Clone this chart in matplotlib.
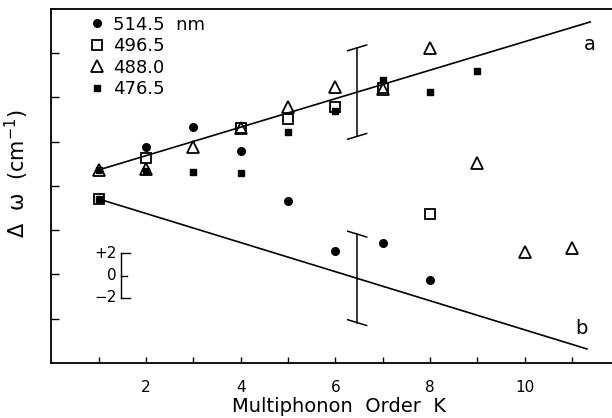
"""Multiphonon order dependence of the Raman shift for four laser lines."""

import numpy
from matplotlib import pyplot

# Data (y in cm^-1, arbitrary offset).
k_514 = [2, 3, 4, 5, 6, 7, 8]
d_514 = [19.5, 21.3, 19.2, 14.6, 10.1, 10.85, 7.5]

k_496 = [1, 2, 4, 5, 6, 7, 8]
d_496 = [14.83, 18.5, 21.25, 22.06, 23.1, 24.9, 13.47]

k_488 = [1, 2, 3, 4, 5, 6, 7, 8, 9, 10, 11]
d_488 = [17.45, 17.54, 19.5, 21.25, 23.15, 24.95, 24.77, 28.48, 18.08,
         10.04, 10.4]

k_476 = [1, 1, 2, 3, 4, 5, 6, 7, 8, 9]
d_476 = [17.45, 14.83, 17.4, 17.27, 17.18, 20.89, 22.8, 25.59, 24.5, 26.4]

labels = ['514.5  nm', '496.5', '488.0', '476.5']

# Fitted lines a and b (start / end points).
line_a_k = [1.0, 11.38]
line_a_d = [17.45, 30.83]
line_b_k = [1.0, 11.31]
line_b_d = [14.83, 1.27]

# Error bars drawn on the fitted lines.
err_k = 6.46
err_half = 4.0

# Scale bar (+2 / 0 / -2 cm^-1).
scale_k = 1.47
scale_zero = 7.9
scale_vals = [2, 0, -2]

pyplot.rc('font', family='DejaVu Sans', size=11)

fig = pyplot.figure(figsize=(6.12, 4.18), dpi=100)
ax = fig.add_axes([0.0837, 0.1316, 0.9163, 0.8469])
ax.set_xlim(0.0, 11.84)
ax.set_ylim(0.0, 32.0)

ax.plot(line_a_k, line_a_d, color='black', linewidth=1.2)
ax.plot(line_b_k, line_b_d, color='black', linewidth=1.2)

ax.plot(k_514, d_514, linestyle='none', marker='o', markersize=5.5,
        color='black', label=labels[0])
ax.plot(k_496, d_496, linestyle='none', marker='s', markersize=6.5,
        markerfacecolor='none', markeredgecolor='black',
        markeredgewidth=1.3, label=labels[1])
ax.plot(k_488, d_488, linestyle='none', marker='^', markersize=8.5,
        markerfacecolor='none', markeredgecolor='black',
        markeredgewidth=1.3, label=labels[2])
ax.plot(k_476, d_476, linestyle='none', marker='s', markersize=5,
        color='black', label=labels[3])

# Error bars with caps parallel to the fitted lines.
for lk, ld in [(line_a_k, line_a_d), (line_b_k, line_b_d)]:
    slope = (ld[1] - ld[0]) / (lk[1] - lk[0])
    centre = ld[0] + slope * (err_k - lk[0])
    ax.plot([err_k, err_k], [centre - err_half, centre + err_half],
            color='black', linewidth=1.1)
    dk = 0.2
    for end in (centre - err_half, centre + err_half):
        ax.plot([err_k - dk, err_k + dk],
                [end - dk * slope, end + dk * slope],
                color='black', linewidth=1.1)

ax.text(11.38, 28.75, 'a', fontsize=14, ha='center', va='center')
ax.text(11.2, 3.16, 'b', fontsize=14, ha='center', va='center')

# Scale bar.
top = scale_zero + scale_vals[0]
bot = scale_zero + scale_vals[-1]
ax.plot([scale_k, scale_k], [bot, top], color='black', linewidth=1.0)
for v in scale_vals:
    stub = 0.2 if v != 0 else 0.12
    ax.plot([scale_k, scale_k + stub], [scale_zero + v] * 2,
            color='black', linewidth=1.0)
    txt = f'+{v}' if v > 0 else ('\u22122' if v < 0 else '0')
    ax.text(scale_k - 0.08, scale_zero + v, txt, fontsize=11,
            ha='right', va='center')

ax.set_xticks(numpy.arange(1, 12))
ax.set_xticklabels(['' if k % 2 else str(k) for k in range(1, 12)])
ax.set_yticks(numpy.arange(4, 32, 4))
ax.set_yticklabels([])
ax.tick_params(axis='x', direction='in', length=4, width=1.0, pad=12,
               labelsize=11)
ax.tick_params(axis='y', direction='in', length=6, width=1.0)
ax.spines['right'].set_visible(False)
for side in ('left', 'bottom', 'top'):
    ax.spines[side].set_linewidth(1.3)

ax.set_xlabel('Multiphonon  Order  K', fontsize=14)
ax.xaxis.set_label_coords(0.513, -0.095)
fig.text(0.028, 0.586, 'Δ  ω  (cm$^{-1}$)', rotation=90,
         ha='center', va='center', fontsize=15)

ax.legend(loc='upper left', bbox_to_anchor=(0.065, 0.9816), frameon=False,
          fontsize=13, handlelength=1.0, handletextpad=0.4,
          labelspacing=0.2, borderpad=0.0, borderaxespad=0.0)

fig.savefig('out.png', dpi=100)
